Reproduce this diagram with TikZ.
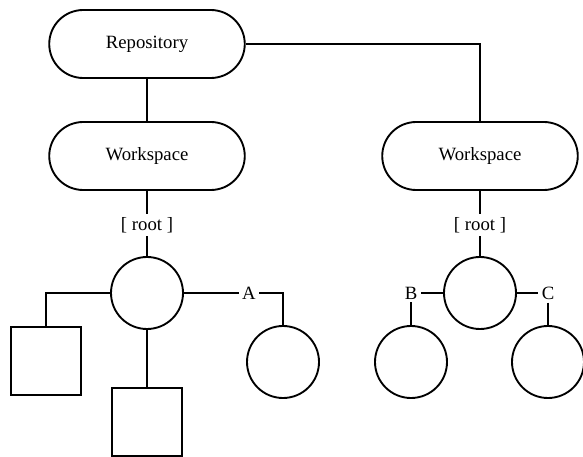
\documentclass[tikz,border=0pt]{standalone}
\usepackage{fontspec}
\setmainfont{Liberation Serif}
\usetikzlibrary{shapes.misc}

\begin{document}
\begin{tikzpicture}[x=0.03cm,y=-0.03cm,line width=1.6pt,
        space/.style={draw,rounded rectangle,minimum width=6.1cm,minimum height=2.04cm,font=\fontsize{16}{19}\selectfont},
        obj/.style={draw,circle,minimum size=2.16cm,inner sep=0pt},
        file/.style={draw,rectangle,minimum width=2.1cm,minimum height=2.04cm,inner sep=0pt},
        lbl/.style={inner sep=2pt,font=\fontsize{16}{19}\selectfont}]
        \useasboundingbox (0,0) rectangle (583,457);

        \coordinate (R)  at (147,44);
        \coordinate (W1) at (147,156);
        \coordinate (W2) at (480,156);
        \coordinate (T1) at (147,225);
        \coordinate (T2) at (480,225);
        \coordinate (O1) at (147,293);
        \coordinate (O2) at (480,293);
        \coordinate (OA) at (283,362);
        \coordinate (OB) at (411,362);
        \coordinate (OC) at (548,362);

        \node[space] (repo)   at (R)  {Repository};
        \node[space] (wsl)    at (W1) {Workspace};
        \node[space] (wsr)    at (W2) {Workspace};
        \node[lbl]   (rootl)  at (T1) {[ root ]};
        \node[lbl]   (rootr)  at (T2) {[ root ]};

        \node[obj]  (dirl)   at (O1) {};
        \node[file] (filea)  at (46,361) {};
        \node[file] (fileb)  at (147,422) {};
        \node[obj]  (dira)   at (OA) {};
        \node[lbl]  (A)      at (249,293) {A};

        \node[obj]  (dirr)   at (O2) {};
        \node[lbl]  (B)      at (411,293) {B};
        \node[lbl]  (C)      at (548,293) {C};
        \node[obj]  (dirb)   at (OB) {};
        \node[obj]  (dirc)   at (OC) {};

        \draw (repo.south) -- (wsl.north);
        \draw (repo.east) -| (wsr.north);
        \draw (wsl.south) -- (rootl.north);
        \draw (wsr.south) -- (rootr.north);
        \draw (rootl.south) -- (dirl.north);
        \draw (rootr.south) -- (dirr.north);

        \draw (dirl.west) -| (filea.north);
        \draw (dirl.south) -- (fileb.north);
        \draw (dirl.east) -- (A.west);
        \draw (A.east) -| (dira.north);

        \draw (dirr.west) -- (B.east);
        \draw (B.south) -- (dirb.north);
        \draw (dirr.east) -- (C.west);
        \draw (C.south) -- (dirc.north);
\end{tikzpicture}
\end{document}
